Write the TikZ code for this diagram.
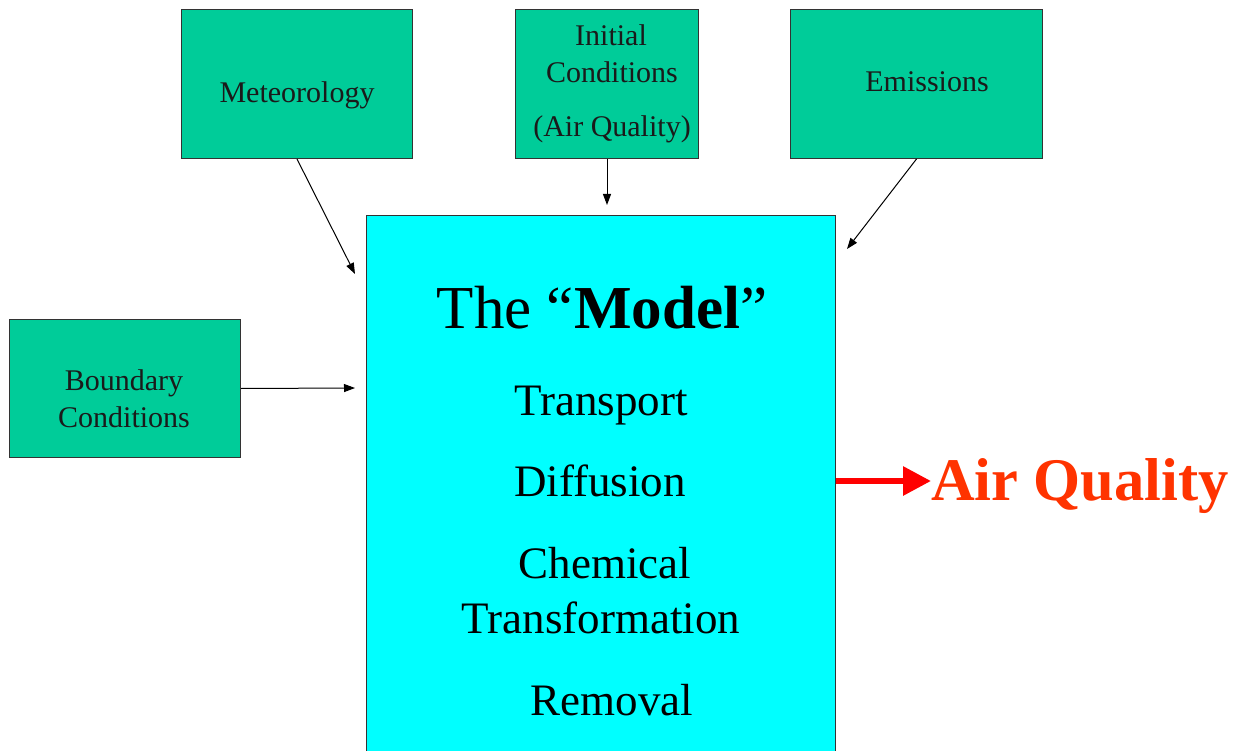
\documentclass[tikz,border=0pt]{standalone}
\usepackage{fontspec}
\setmainfont{Liberation Serif}
\usetikzlibrary{arrows.meta}
\definecolor{boxgreen}{HTML}{00CC99}
\definecolor{modelcyan}{HTML}{00FFFF}
\definecolor{edge}{HTML}{333333}
\definecolor{aqred}{HTML}{FF3300}
\definecolor{arrred}{HTML}{FF0000}
\definecolor{lbl}{HTML}{1A1A1A}
\tikzset{
  inbox/.style={draw=edge, line width=1pt, fill=boxgreen, inner sep=0pt, anchor=north west},
  smalltxt/.style={anchor=base, inner sep=0pt, text=lbl, font=\fontsize{30}{33}\selectfont},
  bigtxt/.style={anchor=base, inner sep=0pt, font=\fontsize{45}{50}\selectfont},
  feed/.style={line width=1pt, -{Triangle[length=11pt,width=8pt]}},
}
\begin{document}
\begin{tikzpicture}[x=1pt,y=-1pt]
\useasboundingbox (0,0) rectangle (1241,751);
% boxes
\node[inbox, minimum width=231pt, minimum height=149pt] (met) at (181,9) {};
\node[inbox, minimum width=183pt, minimum height=149pt] (init) at (515,9) {};
\node[inbox, minimum width=252pt, minimum height=149pt] (emis) at (790,9) {};
\node[inbox, minimum width=231pt, minimum height=138pt] (bc) at (9,319) {};
\node[inbox, fill=modelcyan, minimum width=469pt, minimum height=545pt] (model) at (366,215) {};
% small labels
\node[smalltxt] (metT) at (297,103) {Meteorology};
\node[smalltxt] (initT1) at (611,46) {Initial};
\node[smalltxt] (initT2) at (612,83) {Conditions};
\node[smalltxt] (initT3) at (612,137) {(Air Quality)};
\node[smalltxt] (emisT) at (927,92) {Emissions};
\node[smalltxt] (bcT1) at (124,390) {Boundary};
\node[smalltxt] (bcT2) at (124,427) {Conditions};
% model text
\node[anchor=base, inner sep=0pt, font=\fontsize{61}{67}\selectfont] (title) at (602,328) {The “\textbf{Model}”};
\node[bigtxt] (t1) at (601,415) {Transport};
\node[bigtxt] (t2) at (600,496) {Diffusion};
\node[bigtxt] (t3) at (605,578) {Chemical};
\node[bigtxt] (t4) at (601,633) {Transformation};
\node[bigtxt] (t5) at (612,715) {Removal};
% output
\node[anchor=base west, inner sep=0pt, text=aqred, font=\fontsize{60.5}{66}\selectfont\bfseries] (aq) at (931,500) {Air Quality};
% connector end points
\coordinate (metEnd) at (355,274);
\coordinate (initEnd) at (init.south |- 0,205);
\coordinate (emisEnd) at (847,249);
\coordinate (bcEnd) at (355,388);
\draw[feed] (met.south) -- (metEnd);
\draw[feed] (init.south) -- (initEnd);
\draw[feed] (emis.south) -- (emisEnd);
\draw[feed] (bc.east) -- (bcEnd);
\draw[arrred, line width=6pt, -{Triangle[length=28pt,width=28pt]}] (model.east |- 0,481) -- (aq.west |- 0,481);
\end{tikzpicture}
\end{document}
